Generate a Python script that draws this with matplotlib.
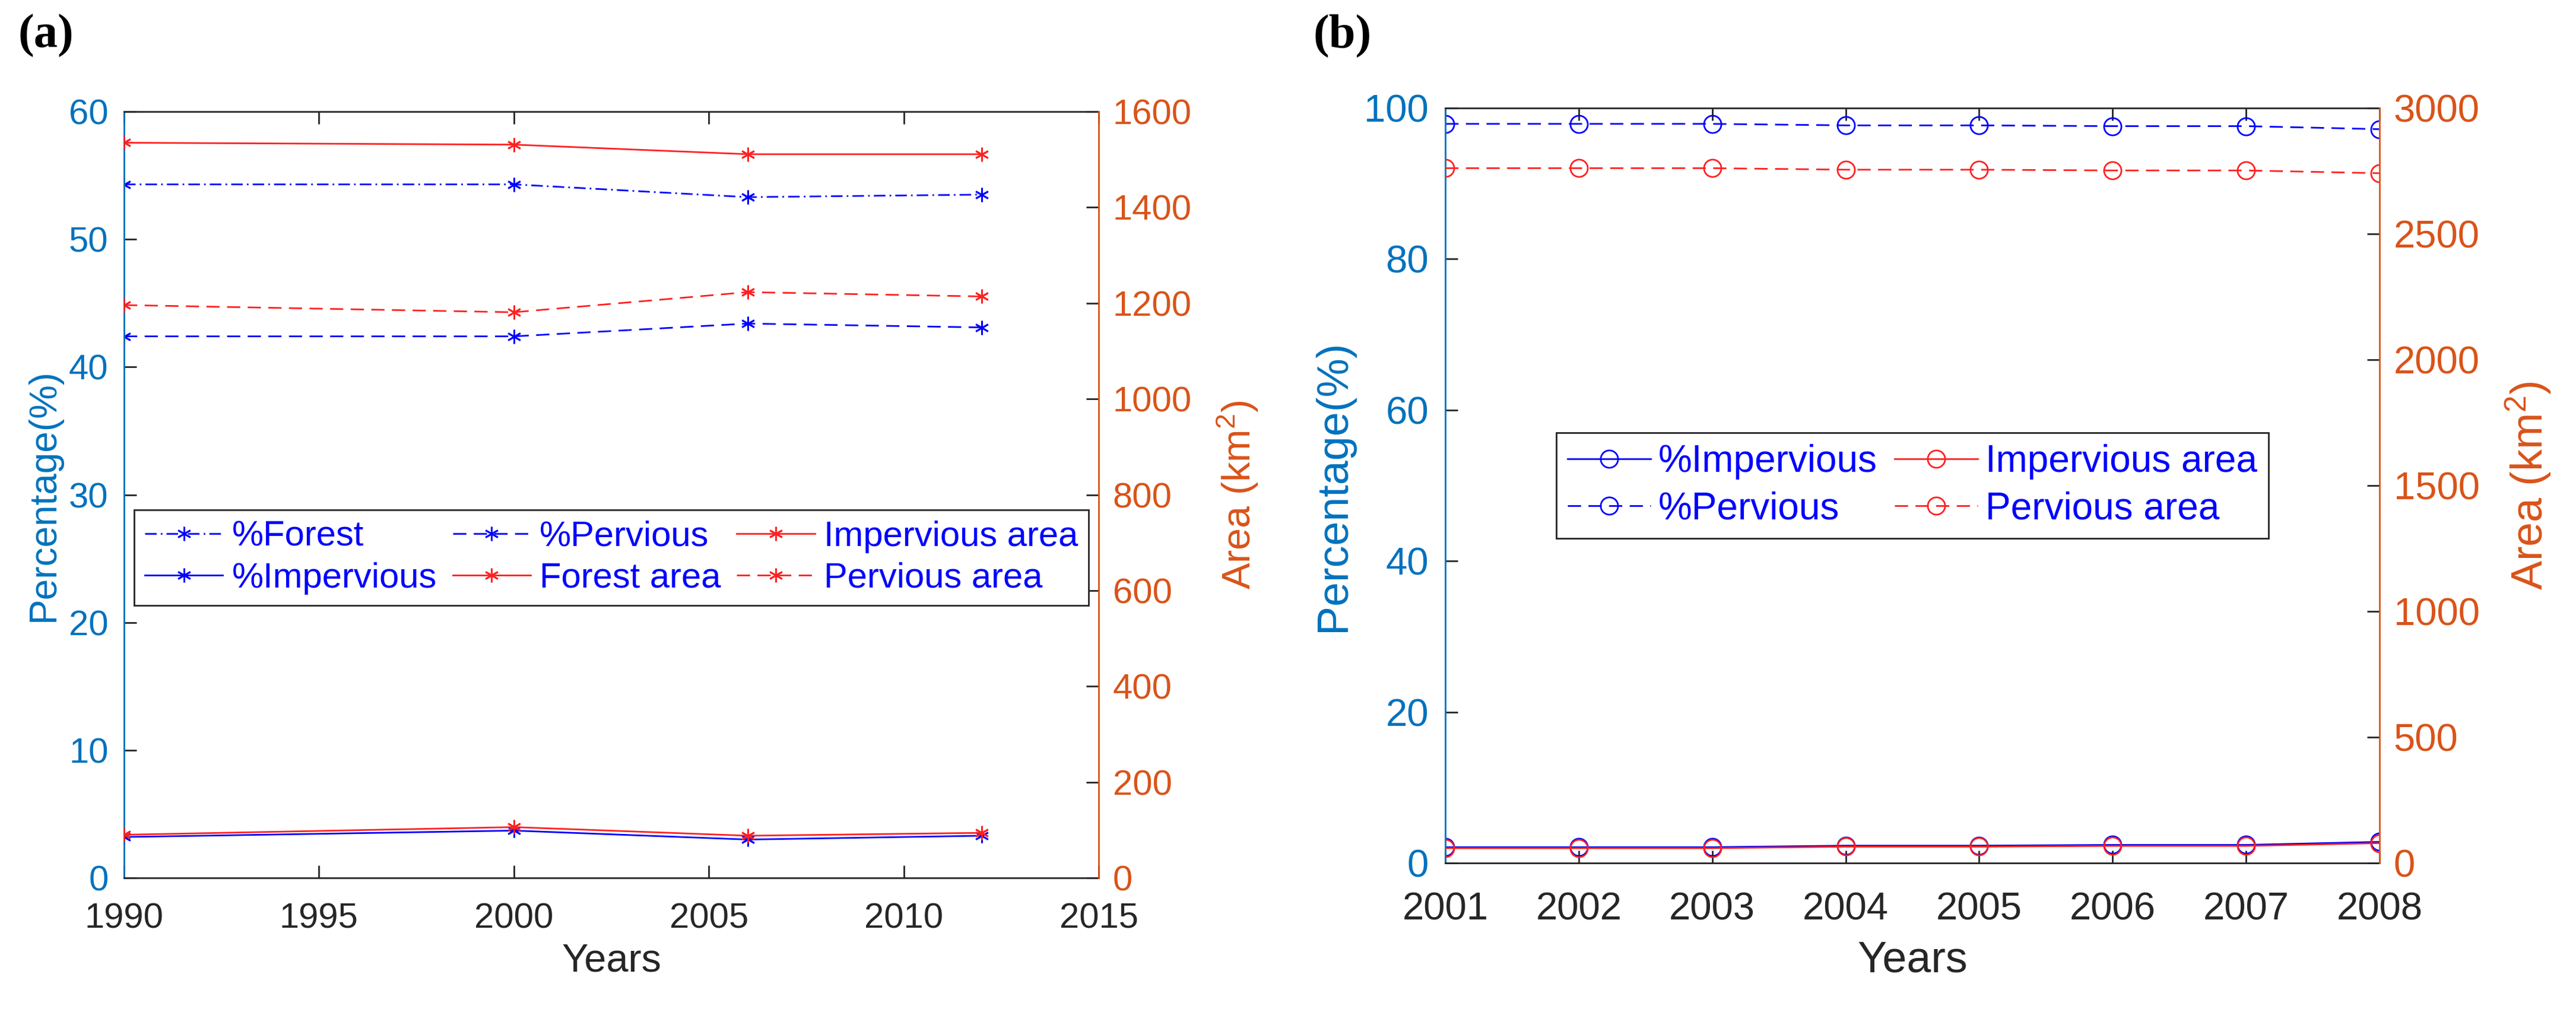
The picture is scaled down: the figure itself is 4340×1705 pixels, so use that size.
import numpy as np
import matplotlib
matplotlib.use("Agg")
import matplotlib.pyplot as plt
from matplotlib.ticker import MultipleLocator

plt.rcParams["font.family"] = ["Liberation Sans", "DejaVu Sans"]
plt.rcParams["mathtext.default"] = "regular"

# --- data: panel (a) ---
years_a = [1990, 2000, 2006, 2012]
pct_forest = [54.3, 54.3, 53.3, 53.5]
pct_pervious_a = [42.4, 42.4, 43.4, 43.1]
pct_impervious_a = [3.2, 3.7, 3.0, 3.3]
forest_area = [1535, 1531, 1511, 1511]
impervious_area_a = [90, 106, 88, 94]
pervious_area_a = [1196, 1181, 1223, 1214]

# --- data: panel (b) ---
years_b = [2001, 2002, 2003, 2004, 2005, 2006, 2007, 2008]
pct_impervious_b = [2.1, 2.1, 2.1, 2.3, 2.3, 2.4, 2.4, 2.8]
pct_pervious_b = [97.9, 97.9, 97.9, 97.7, 97.7, 97.6, 97.6, 97.2]
impervious_area_b = [59, 59, 59, 65, 65, 68, 68, 79]
pervious_area_b = [2761, 2761, 2761, 2755, 2755, 2752, 2752, 2741]

LEFT_C = "#0072BD"
RIGHT_C = "#D95319"
AX_C = "#262626"
BLUE = "#0000FF"
RED = "#FF2020"
LW = 2.0
DASH = (8, 4.5)
DASHDOT = (7, 2.5, 1, 2.5)
STAR = (6, 2, 0)

W, H = 4340, 1705
fig = plt.figure(figsize=(W / 100, H / 100), dpi=100)


def style_axes(ax, ax2, fs, pad_x, pad_l, pad_r):
    for s in ("top", "bottom"):
        ax.spines[s].set_color(AX_C)
        ax.spines[s].set_linewidth(2)
    ax.spines["left"].set_color(LEFT_C)
    ax.spines["left"].set_linewidth(2)
    ax.spines["right"].set_visible(False)
    for s in ("top", "bottom", "left"):
        ax2.spines[s].set_visible(False)
    ax2.spines["right"].set_color(RIGHT_C)
    ax2.spines["right"].set_linewidth(2)
    ax.tick_params(axis="x", direction="in", top=True, bottom=True, length=15,
                   width=2, color=AX_C, labelcolor=AX_C, labelsize=fs, pad=pad_x)
    ax.tick_params(axis="y", direction="in", left=True, right=False, length=15,
                   width=2, color=AX_C, labelcolor=LEFT_C, labelsize=fs, pad=pad_l)
    ax2.tick_params(axis="y", direction="in", left=False, right=True, length=15,
                    width=2, color=AX_C, labelcolor=RIGHT_C, labelsize=fs, pad=pad_r)
    ax2.tick_params(axis="x", top=False, bottom=False, labelbottom=False)


# ---------------- panel (a) ----------------
axa = fig.add_axes([209 / W, 1 - 1479 / H, 1642 / W, 1291 / H])
axa2 = axa.twinx()
axa.patch.set_visible(False)

l1, = axa.plot(years_a, pct_forest, color=BLUE, lw=LW, dashes=DASHDOT,
               marker=STAR, ms=17, mew=2, label="%Forest")
l2, = axa.plot(years_a, pct_impervious_a, color=BLUE, lw=LW, ls="-",
               marker=STAR, ms=17, mew=2, label="%Impervious")
l3, = axa.plot(years_a, pct_pervious_a, color=BLUE, lw=LW, dashes=DASH,
               marker=STAR, ms=17, mew=2, label="%Pervious")
r1, = axa2.plot(years_a, forest_area, color=RED, lw=LW, ls="-",
                marker=STAR, ms=17, mew=2, label="Forest area")
r2, = axa2.plot(years_a, impervious_area_a, color=RED, lw=LW, ls="-",
                marker=STAR, ms=17, mew=2, label="Impervious area")
r3, = axa2.plot(years_a, pervious_area_a, color=RED, lw=LW, dashes=DASH,
                marker=STAR, ms=17, mew=2, label="Pervious area")

axa.set_xlim(1990, 2015)
axa.set_ylim(0, 60)
axa2.set_ylim(0, 1600)
axa.xaxis.set_major_locator(MultipleLocator(5))
axa.yaxis.set_major_locator(MultipleLocator(10))
axa2.yaxis.set_major_locator(MultipleLocator(200))
style_axes(axa, axa2, 43, 30, 19, 17)

axa.set_xlabel("Years", fontsize=48, color=AX_C)
axa.xaxis.set_label_coords(0.5, -0.085)
axa.set_ylabel("Percentage(%)", fontsize=46, color=LEFT_C)
axa.yaxis.set_label_coords(-0.064, 0.5)
axa2.set_ylabel("Area (km$^{2}$)", fontsize=48, color=RIGHT_C)
axa2.yaxis.set_label_coords(1.120, 0.5)

leg = axa2.legend([l1, l2, l3, r1, r2, r3],
                  [h.get_label() for h in (l1, l2, l3, r1, r2, r3)],
                  ncol=3, loc="center", bbox_to_anchor=(0.5, 0.418),
                  fontsize=43, handlelength=2.2, handletextpad=0.25,
                  columnspacing=0.45, labelspacing=0.25, borderpad=0.3,
                  borderaxespad=0, fancybox=False, framealpha=1,
                  edgecolor=AX_C, labelcolor=BLUE)
leg.get_frame().set_linewidth(2)

# ---------------- panel (b) ----------------
axb = fig.add_axes([2435 / W, 1 - 1454 / H, 1574 / W, 1272 / H])
axb2 = axb.twinx()
axb.patch.set_visible(False)

b1, = axb.plot(years_b, pct_impervious_b, color=BLUE, lw=LW, ls="-",
               marker="o", ms=21, mew=2, mfc="none", label="%Impervious")
b2, = axb.plot(years_b, pct_pervious_b, color=BLUE, lw=LW, dashes=DASH,
               marker="o", ms=21, mew=2, mfc="none", label="%Pervious")
c1, = axb2.plot(years_b, impervious_area_b, color=RED, lw=LW, ls="-",
                marker="o", ms=21, mew=2, mfc="none", label="Impervious area")
c2, = axb2.plot(years_b, pervious_area_b, color=RED, lw=LW, dashes=DASH,
                marker="o", ms=21, mew=2, mfc="none", label="Pervious area")

axb.set_xlim(2001, 2008)
axb.set_ylim(0, 100)
axb2.set_ylim(0, 3000)
axb.xaxis.set_major_locator(MultipleLocator(1))
axb.yaxis.set_major_locator(MultipleLocator(20))
axb2.yaxis.set_major_locator(MultipleLocator(500))
style_axes(axb, axb2, 47, 35, 20, 17)

axb.set_xlabel("Years", fontsize=53, color=AX_C)
axb.xaxis.set_label_coords(0.5, -0.102)
axb.set_ylabel("Percentage(%)", fontsize=53, color=LEFT_C)
axb.yaxis.set_label_coords(-0.098, 0.5)
axb2.set_ylabel("Area (km$^{2}$)", fontsize=53, color=RIGHT_C)
axb2.yaxis.set_label_coords(1.133, 0.5)

legb = axb2.legend([b1, b2, c1, c2],
                   [h.get_label() for h in (b1, b2, c1, c2)],
                   ncol=2, loc="center", bbox_to_anchor=(0.5, 0.5),
                   fontsize=46, handlelength=2.2, handletextpad=0.2,
                   columnspacing=0.45, labelspacing=0.3, borderpad=0.3,
                   borderaxespad=0, fancybox=False, framealpha=1,
                   edgecolor=AX_C, labelcolor=BLUE)
legb.get_frame().set_linewidth(2)

# panel letters
fig.text(31 / W, 1 - 24 / H, "(a)", fontsize=58, fontweight="bold",
         family="Liberation Serif", va="top", ha="left")
fig.text(2212 / W, 1 - 24 / H, "(b)", fontsize=58, fontweight="bold",
         family="Liberation Serif", va="top", ha="left")

fig.savefig("out.png", dpi=100, facecolor="white")
